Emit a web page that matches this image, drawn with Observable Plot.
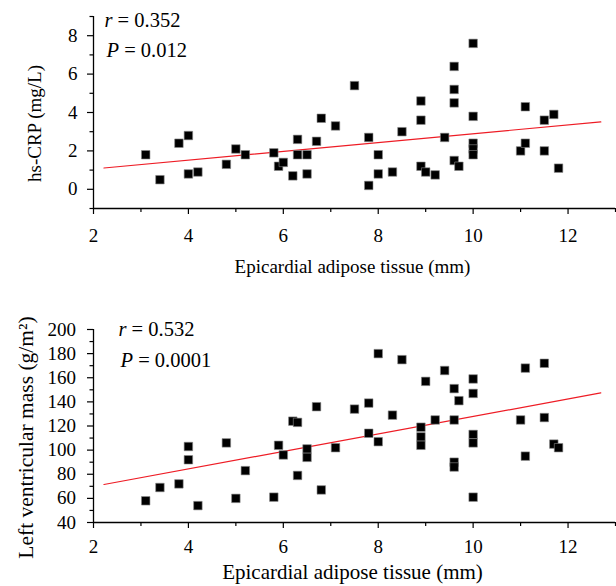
<!DOCTYPE html>
<html>
<head>
<meta charset="utf-8">
<script src="https://cdn.jsdelivr.net/npm/d3@7"></script>
<script src="https://cdn.jsdelivr.net/npm/@observablehq/plot@0.6"></script>
<style>
  html, body { margin: 0; padding: 0; background: #fff; }
  #chart svg { display: block; }
</style>
</head>
<body>
<div id="chart"></div>
<script>
// Epicardial adipose tissue (mm) — shared by both panels
const eat = [3.1,3.4,3.8,4.0,4.0,4.2,4.8,5.0,5.2,5.8,5.9,6.0,6.2,6.3,6.3,6.5,6.5,6.7,6.8,7.1,7.5,7.8,7.8,8.0,8.0,8.3,8.5,8.9,8.9,8.9,9.0,9.2,9.4,9.6,9.6,9.6,9.6,9.7,10,10,10,10,10,11.0,11.1,11.1,11.5,11.5,11.7,11.8];
// hs-CRP (mg/L)
const hsCRP = [1.8,0.5,2.4,2.8,0.8,0.9,1.3,2.1,1.8,1.9,1.2,1.4,0.7,2.6,1.8,1.8,0.8,2.5,3.7,3.3,5.4,2.7,0.2,1.8,0.8,0.9,3.0,4.6,3.6,1.2,0.9,0.75,2.7,6.4,5.2,4.5,1.5,1.2,7.6,3.8,2.4,2.1,1.8,2.0,2.4,4.3,3.6,2.0,3.9,1.1];
// Left ventricular mass (g/m2)
const lvm = [58,69,72,103,92,54,106,60,83,61,104,96,124,123,79,101,94,136,67,102,134,139,114,180,107,129,175,119,111,104,157,125,166,151,125,90,86,141,159,147,113,106,61,125,168,95,172,127,105,102];

// Fitted lines (end points)
const fitX = [2.22, 12.69];
const fitCRP = [1.11, 3.51];
const fitLVM = [71.5, 147.4];

// Ticks
const xMajor = [2,4,6,8,10,12];
const xMinor = [3,5,7,9,11,13];
const yMajorTop = [0,2,4,6,8];
const yMinorTop = [-1,1,3,5,7,9];
const yMajorBot = [40,60,80,100,120,140,160,180,200];
const yMinorBot = [50,70,90,110,130,150,170,190];

// Texts
const xTitle = "Epicardial adipose tissue (mm)";
const yTitles = ["hs-CRP (mg/L)", "Left ventricular mass (g/m²)"];
const statsTop = ["r = 0.352", "P = 0.012"];
const statsBot = ["r = 0.532", "P = 0.0001"];

const FONT = "'Liberation Serif', 'Times New Roman', serif";
const RED = "#ee1c25";

function panel(cfg) {
  const pts = cfg.xs.map((x, i) => ({x, y: cfg.ys[i]}));
  const fit = fitX.map((x, i) => ({x, y: cfg.fit[i]}));
  const svg = Plot.plot({
    width: 616,
    height: cfg.height,
    marginLeft: 93, marginRight: 1,
    marginTop: cfg.mt, marginBottom: cfg.mb,
    x: {domain: [2, 13], axis: null},
    y: {domain: cfg.yDomain, axis: null},
    style: {fontFamily: FONT, fontSize: "19px", color: "#000", background: "#fff", overflow: "visible"},
    marks: [
      Plot.axisX(xMajor, {tickSize: 6, tickPadding: cfg.xPad, fontSize: 19, strokeWidth: 1.2, label: null, tickFormat: d => String(d)}),
      Plot.axisX(xMinor, {tickSize: 4, strokeWidth: 1.2, label: null, tickFormat: () => ""}),
      Plot.axisY(cfg.yMajor, {tickSize: 6, tickPadding: cfg.yPad, fontSize: 19, strokeWidth: 1.2, label: null, tickFormat: d => String(d)}),
      Plot.axisY(cfg.yMinor, {tickSize: 3.5, strokeWidth: 1.2, label: null, tickFormat: () => ""}),
      Plot.ruleY([cfg.yDomain[0]], {stroke: "#000", strokeWidth: 1.3}),
      Plot.ruleX([2], {stroke: "#000", strokeWidth: 1.3}),
      Plot.line(fit, {x: "x", y: "y", stroke: RED, strokeWidth: 1.2}),
      Plot.dot(pts, {x: "x", y: "y", symbol: "square", r: 4.8, fill: "#000", stroke: "#8a8a8a", strokeWidth: 0.6}),
      Plot.text([cfg.stats[0]], {frameAnchor: "top-left", text: d => d, textAnchor: "start", lineAnchor: "bottom", dx: cfg.sx, dy: cfg.sy0, fontSize: 20.5}),
      Plot.text([cfg.stats[1]], {frameAnchor: "top-left", text: d => d, textAnchor: "start", lineAnchor: "bottom", dx: cfg.sx + 2, dy: cfg.sy1, fontSize: 20.5}),
      Plot.text([xTitle], {frameAnchor: "bottom", text: d => d, textAnchor: "middle", lineAnchor: "bottom", dx: -2, dy: cfg.xtDy, fontSize: cfg.xTitleSize}),
      Plot.text([cfg.yTitle], {frameAnchor: "left", text: d => d, rotate: -90, textAnchor: "middle", lineAnchor: "bottom", dx: cfg.ytDx, dy: cfg.ytDy, fontSize: cfg.yTitleSize})
    ]
  });
  // italic r and P
  d3.select(svg).selectAll("text").each(function() {
    const t = this.textContent;
    const m = /^([rP])( = .*)$/.exec(t);
    if (m && this.childElementCount === 0) {
      this.textContent = "";
      d3.select(this).append("tspan").attr("font-style", "italic").text(m[1]);
      d3.select(this).append("tspan").text(m[2]);
    }
  });
  return svg;
}

const chart = document.getElementById("chart");
chart.append(panel({
  xs: eat, ys: hsCRP, fit: fitCRP,
  height: 290, mt: 16, mb: 82,
  yDomain: [-1, 9], yMajor: yMajorTop, yMinor: yMinorTop,
  xPad: 14, yPad: 10,
  stats: statsTop, sx: 11, sy0: 10, sy1: 40.5,
  yTitle: yTitles[0], ytDx: -53, ytDy: 11, xtDy: 64, xTitleSize: 19, yTitleSize: 19
}));
chart.append(panel({
  xs: eat, ys: lvm, fit: fitLVM,
  height: 296, mt: 39, mb: 64,
  yDomain: [40, 200], yMajor: yMajorBot, yMinor: yMinorBot,
  xPad: 10.5, yPad: 11.5,
  stats: statsBot, sx: 25, sy0: 6, sy1: 37,
  yTitle: yTitles[1], ytDx: -61, ytDy: 11.5, xtDy: 56, xTitleSize: 21, yTitleSize: 21.5
}));
</script>
</body>
</html>
